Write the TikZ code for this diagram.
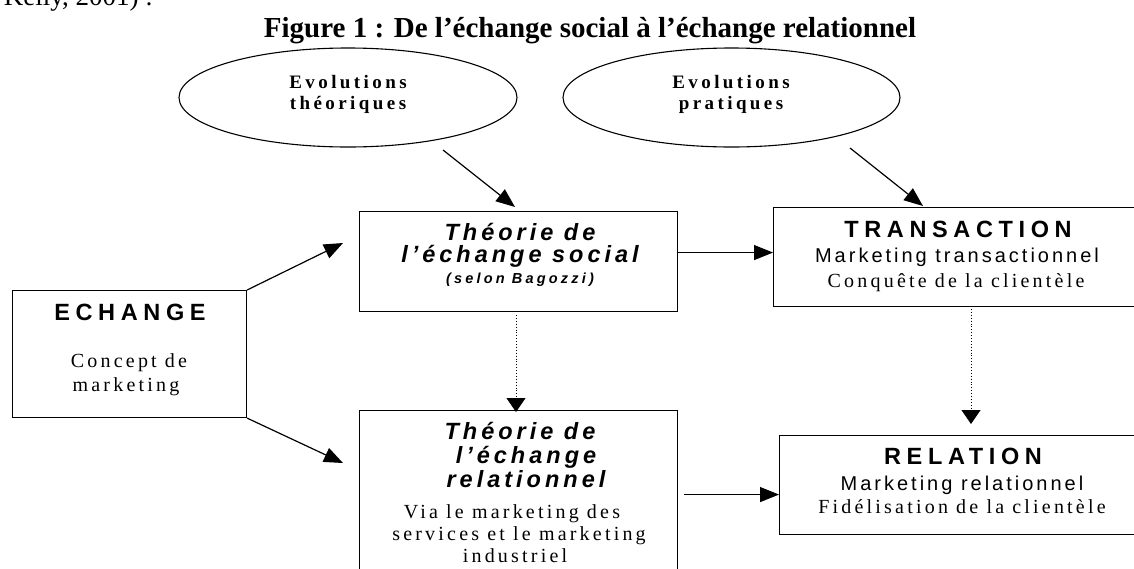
\documentclass[tikz,border=0pt]{standalone}
\usepackage{fontspec}
\setmainfont{Liberation Serif}
\newfontfamily\arialf{Liberation Sans}
\usetikzlibrary{arrows.meta,shapes.geometric}
\newcommand{\ls}[1]{\addfontfeature{LetterSpace=#1}}
\begin{document}
\begin{tikzpicture}[x=1pt,y=-1pt,
  box/.style={draw,line width=1.1pt,rectangle,inner sep=0pt,anchor=north west},
  ell/.style={draw,line width=1.1pt,ellipse,inner sep=0pt},
  txt/.style={anchor=base,inner sep=0pt},
  arr/.style={line width=1.2pt,-{Triangle[length=19pt,width=15pt]}},
  dotarr/.style={line width=0.9pt,dotted,-{Triangle[length=14pt,width=19pt]}},
  ttl/.style={font=\fontsize{29}{34}\selectfont\bfseries},
  elltxt/.style={font=\fontsize{19}{22}\selectfont\bfseries\ls{18}},
  bigsans/.style={font=\fontsize{23.5}{27}\selectfont\arialf\bfseries\ls{24}},
  theo/.style={font=\fontsize{23.5}{27}\selectfont\arialf\bfseries\itshape\ls{17}},
  smallit/.style={font=\fontsize{14.5}{17}\selectfont\arialf\bfseries\itshape\ls{22}},
  serif/.style={font=\fontsize{20}{24}\selectfont\ls{16}},
  sans/.style={font=\fontsize{20}{24}\selectfont\arialf\ls{15}},
]
\useasboundingbox (0,0) rectangle (1134,568);

% previous text line (cut at top)
\node[anchor=base east,inner sep=0pt,font=\fontsize{27}{32}\selectfont] (prev) at (153,5) {Kelly, 2001) :};
\node[txt,ttl] (title) at (590,37) {Figure 1 : De l’échange social à l’échange relationnel};

% ellipses
\node[ell,minimum width=338pt,minimum height=99pt] (e1) at (348,97.5) {};
\node[ell,minimum width=337pt,minimum height=99pt] (e2) at (731.5,97.5) {};
\node[txt,elltxt] (e1a) at (348,88) {Evolutions};
\node[txt,elltxt] (e1b) at (348,109) {théoriques};
\node[txt,elltxt] (e2a) at (731,88) {Evolutions};
\node[txt,elltxt] (e2b) at (731,109) {pratiques};

% boxes
\node[box,minimum width=234pt,minimum height=127pt] (ech) at (12,290) {};
\node[box,minimum width=318pt,minimum height=100pt] (tsoc) at (359,211) {};
\node[box,minimum width=318pt,minimum height=168pt] (trel) at (359,410) {};
\node[box,minimum width=364pt,minimum height=99pt] (trans) at (773,207) {};
\node[box,minimum width=362pt,minimum height=99pt] (rel) at (779,435) {};

% texts ECHANGE
\node[txt,bigsans] (echa) at (130,320) {ECHANGE};
\node[txt,serif] (echb) at (129,367) {Concept de};
\node[txt,serif] (echc) at (126,391) {marketing};

% texts theorie sociale
\node[txt,theo] (tsa) at (520,240) {Théorie de};
\node[txt,theo] (tsb) at (520,262) {l’échange social};
\node[txt,smallit] (tsc) at (520,283) {(selon Bagozzi)};

% texts theorie relationnelle
\node[txt,theo] (tra) at (520,439) {Théorie de};
\node[txt,theo] (trb) at (526,463) {l’échange};
\node[txt,theo] (trc) at (526,487) {relationnel};
\node[txt,serif] (trd) at (512,518) {Via le marketing des};
\node[txt,serif] (tre) at (519,540) {services et le marketing};
\node[txt,serif] (trf) at (515,562) {industriel};

% texts transaction
\node[txt,bigsans] (tra1) at (958,237) {TRANSACTION};
\node[txt,sans] (tra2) at (957,262) {Marketing transactionnel};
\node[txt,serif] (tra3) at (956,287) {Conquête de la clientèle};

% texts relation
\node[txt,bigsans] (rel1) at (963,464) {RELATION};
\node[txt,sans] (rel2) at (962,490) {Marketing relationnel};
\node[txt,serif] (rel3) at (962,513) {Fidélisation de la clientèle};

% connector ends
\coordinate (a1s) at (443,150);
\coordinate (a1e) at (515,207);
\coordinate (a2s) at (850,148);
\coordinate (a2e) at (923,206);
\coordinate (ae1) at (343,243);
\coordinate (ae2) at (343,463);
\coordinate (d1s) at (516,315);
\coordinate (d1e) at (516,412);
\coordinate (d2s) at (971,309);
\coordinate (d2e) at (971,424);
\coordinate (h1s) at ([yshift=9pt]tsoc.east);
\coordinate (h2s) at ([xshift=6pt]trel.east);

\draw[arr] (a1s) -- (a1e);
\draw[arr] (a2s) -- (a2e);
\draw[arr] (ech.north east) -- (ae1);
\draw[arr] (ech.south east) -- (ae2);
\draw[arr] (h1s) -- (h1s -| trans.west);
\draw[arr] (h2s) -- (h2s -| rel.west);
\draw[dotarr] (d1s) -- (d1e);
\draw[dotarr] (d2s) -- (d2e);
\end{tikzpicture}
\end{document}
